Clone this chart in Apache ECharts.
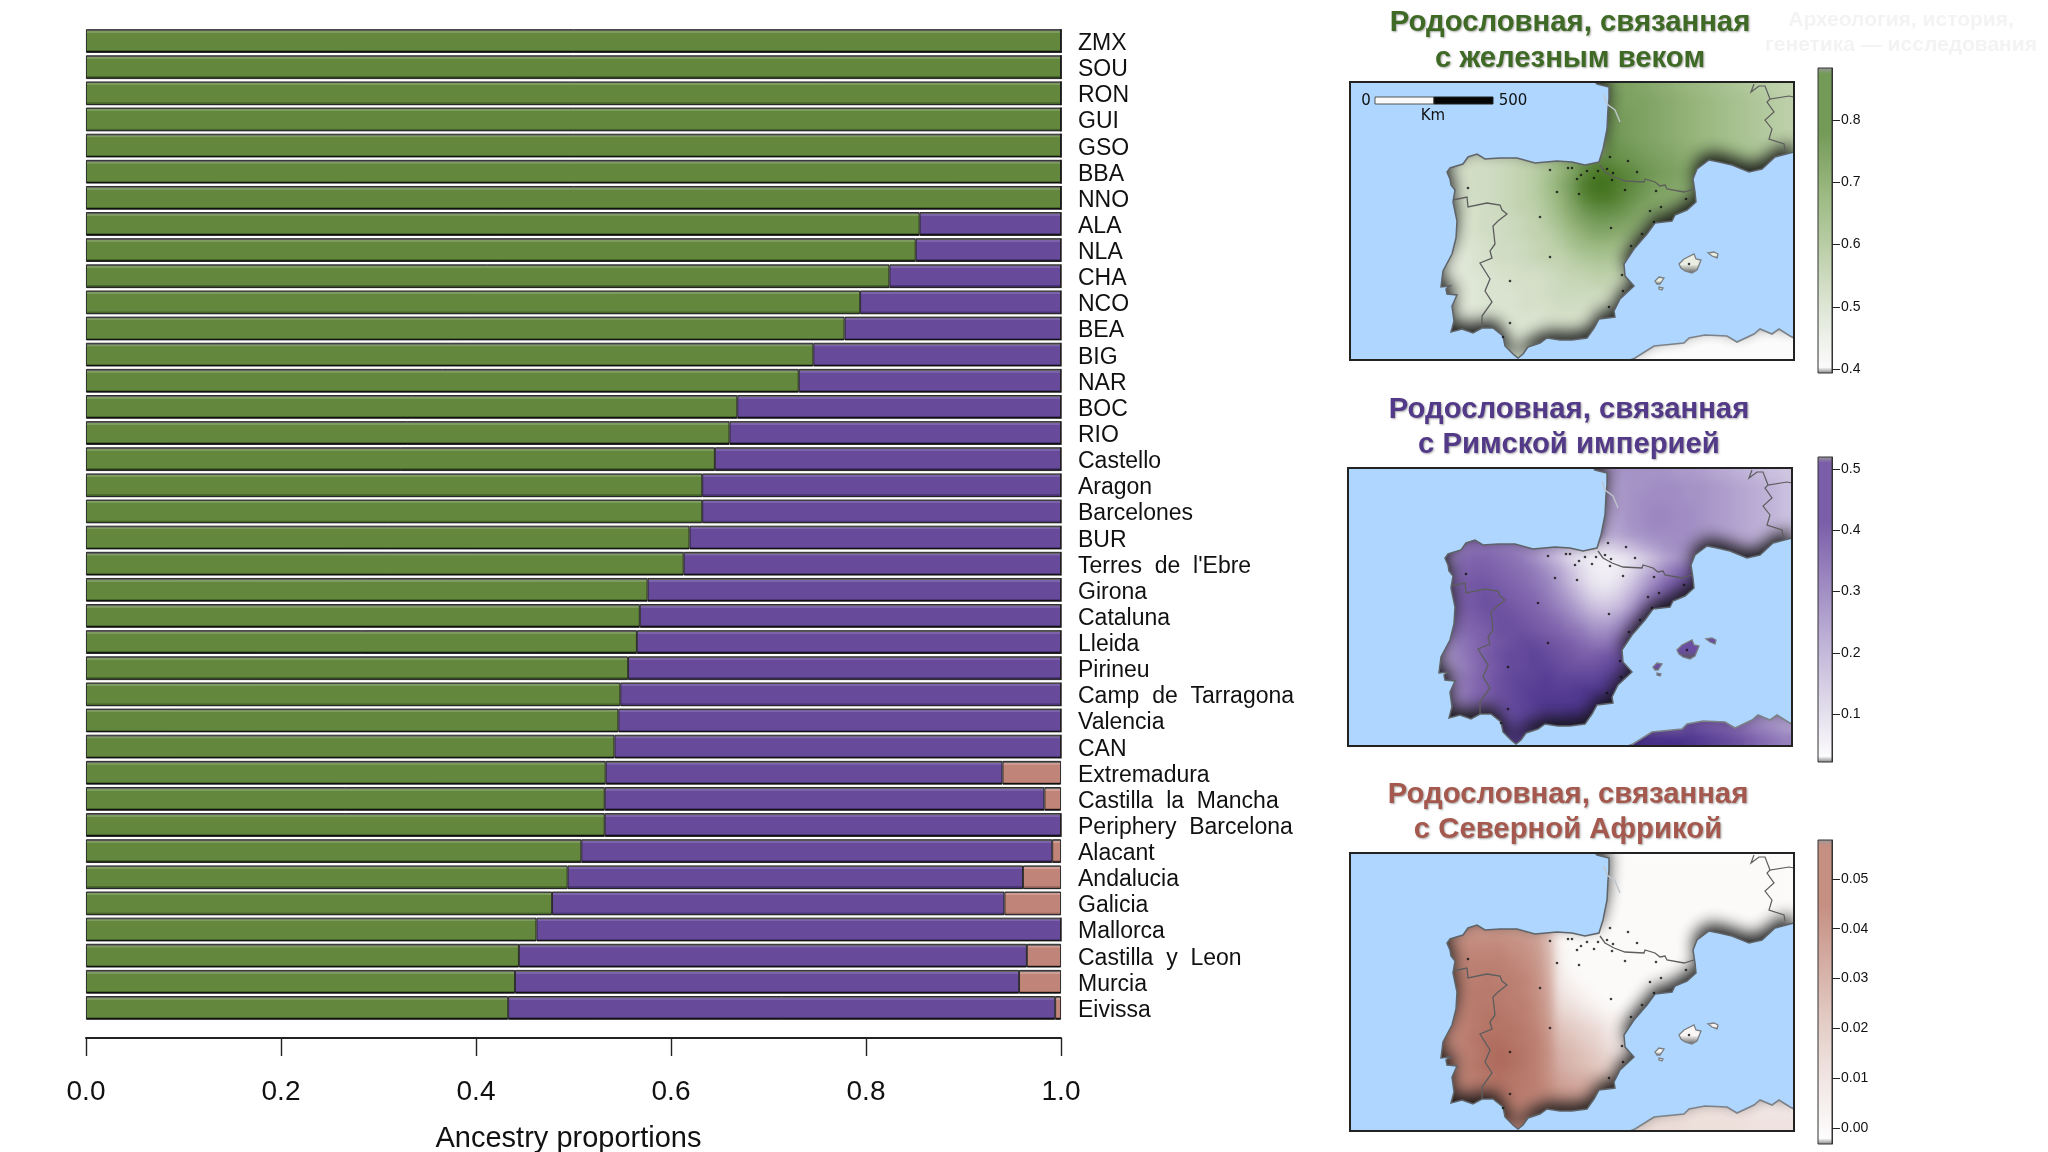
<!DOCTYPE html>
<html><head><meta charset="utf-8">
<style>
html,body{margin:0;padding:0;background:#fff}
#wrap{position:relative;width:2048px;height:1152px;overflow:hidden}
#heat,#c{position:absolute;left:0;top:0;width:2048px;height:1152px}
#heat{z-index:0}#c{z-index:2}
.soft{position:absolute;z-index:1;backdrop-filter:blur(5px);-webkit-backdrop-filter:blur(5px)}
</style>
<script src="https://cdn.jsdelivr.net/npm/echarts@6/dist/echarts.min.js"></script>
</head><body><div id="wrap"><div id="heat"></div><div id="c"></div></div>
<script>
const groups = ['ZMX','SOU','RON','GUI','GSO','BBA','NNO','ALA','NLA','CHA','NCO','BEA','BIG','NAR','BOC','RIO','Castello','Aragon','Barcelones','BUR',"Terres de l'Ebre",'Girona','Cataluna','Lleida','Pirineu','Camp de Tarragona','Valencia','CAN','Extremadura','Castilla la Mancha','Periphery Barcelona','Alacant','Andalucia','Galicia','Mallorca','Castilla y Leon','Murcia','Eivissa'];
const ironAge = [1,1,1,1,1,1,1,.855,.851,.824,.794,.778,.746,.731,.668,.660,.645,.632,.632,.619,.613,.576,.568,.565,.556,.548,.546,.542,.533,.532,.532,.508,.494,.478,.462,.444,.440,.433];
const romanEmpire = [0,0,0,0,0,0,0,.145,.149,.176,.206,.222,.254,.269,.332,.340,.355,.368,.368,.381,.387,.424,.432,.435,.444,.452,.454,.458,.407,.451,.468,.483,.467,.464,.538,.521,.517,.561];
const northAfrica = [0,0,0,0,0,0,0,0,0,0,0,0,0,0,0,0,0,0,0,0,0,0,0,0,0,0,0,0,.060,.017,0,.009,.039,.058,0,.035,.043,.006];
const xTicks = [0,.2,.4,.6,.8,1];

const heatIron = [
"....................pqqqponmlkjihgfed",
".....................rrqqponmlkjihgfe",
".....................srrqponmlkjihgfe",
".....................ssrqponmlkjihgfe",
".....................tsrqponmlkjihgfe",
".....................utsrqponmlkjihgf",
".........9aabcdehknruvutsrqponmlkjihg",
"........89aabcdfimqvyywvtsrqponmlkj",
"........89aabcdfjnsxzzxvtrqpon",
"........89aabcdfimrwyywusqponm",
"........899abcdehlptvvusqponm",
"........889aabcdgjnqssrqonml",
"........889aabcdehknpponlk",
"........7889aabcdfikllkji.....a",
"........7789aabcddfhiihg...abba",
".......7778899aabcdeffed...aaa",
".......777788999abccddcbbaa",
"........77788899abbbbbaa.99",
"........777888999aaaaaa",
"........777788889999999..........0000",
"........7777888889999.......000000000",
"............88888888...00000000000000",
".............88........00000000000000"];
const heatRoman = [
"....................hijjjjjiihgfedcba",
".....................gijjkkkjjihgfedb",
".....................gijkkkkjjihgfedb",
".....................gijkllkkjihgfedb",
".....................fhjkllkkjihgfedb",
".....................egijkkkkjihgfedc",
".........npponmkheb878acfhjkkjihgfedc",
"........kqrrqpnkgc7422358cgjkkjihgf",
"........nrssrqpnkgb63236bglprr",
"........osttsrqomid84359flqtuu",
"........pstutsrqnkgb768djosuu",
"........pstuutsrpmjfbachnruu",
"........orstuutsrpmjgfimqs",
"........nqrsuuutsrpnkkmpr.....q",
"........loqstuvvutsqooqs...uuvq",
".......iknqsuvvwvutsstuv...vvv",
".......hjmpstvvwwvuuuvwwwss",
"........knqsuvwwxwwwwxxx.ss",
"........lnqsuvwxxxxyyyy",
"........lnqsuvwxyyyyzzz",
"........kmoruvwxyyzzz............mkih",
"............vwxyyzzz........vutsqomki",
".............xx........zzzzzyxwvusqom"];
const heatAfrica = [
"....................11111111111111111",
".....................1111111111111111",
".....................1111111111111111",
".....................1111111111111111",
".....................1111111111111111",
".........rrrrqpnh11111111111111111111",
"........rrrrrqpnh31111111111111111111",
".......ssttttsrpj311111111111111111",
".......ttuuuutsqk4111111111111",
".......ttuvvvutrl5111111111111",
".......ttvvwvvusm631111111111",
".......uuvwwwvusn85311111111",
".......uuvwwwvvtoa85311111",
".......uuvwxxwvtpdb964321.....2",
".......uuvwxxxwuqgeca743...3332",
"......ttuvxyyxwvrigec963...333",
"......ttuvwyzyxvskigeb84233",
".......uuvxyzyxvsljhfdb6.33",
".......uuvwxyxwvsnlkige",
".......uuuwwxxwvtponmlj..........7777",
".......ttuvvwwvutrqpo.......888887777",
"........tuvvvvutsrqp...99999999888777",
"..........vvvuuqqqqqp..aaaaa999998888"];

const ticksIron = [.4,.5,.6,.7,.8];
const ticksRoman = [.1,.2,.3,.4,.5];
const ticksAfrica = [0,.01,.02,.03,.04,.05];
const rampIron = ['#fbfbfb','#dfe6d6','#bccfa9','#9ab880','#749a58','#44731f'];
const rampRoman = ['#fbfafc','#dcd6e8','#bdb0d6','#9c87c0','#7a5ea9','#48308a'];
const rampAfrica = ['#fdfdfd','#f1e6e3','#e3ccc5','#d4ada3','#c58f82','#ae6a5b'];
const landTone = ['#dde4d2','#7a5ea9','#fbf8f7'];
const islandTone = ['#eaeee2','#6a4ea1','#f8f5f4'];

const siteX = [118,200,218,222,237,231,227,244,248,257,263,262,260,278,287,207,229,275,306,336,311,300,304,190,261,292,281,200,160,272,273,259,160,339,153];
const siteY = [106,88,86,86,89,93,97,96,89,87,91,98,75,79,90,110,112,108,109,117,125,129,140,135,146,152,164,175,199,193,209,225,241,182,255];

const iberiaCoast = [[245,0],[247,2],[259,5],[259,17],[258,27],[257,47],[253,67],[249,80],[235,83],[222,80],[207,79],[185,81],[167,76],[150,76],[135,77],[127,72],[118,75],[113,82],[100,86],[97,90],[100,97],[101,103],[105,108],[103,120],[107,139],[106,156],[102,172],[93,189],[91,205],[100,204],[96,207],[97,212],[107,213],[102,224],[104,239],[101,250],[112,247],[123,251],[132,246],[143,246],[153,254],[155,264],[163,272],[168,276],[173,272],[178,265],[190,261],[197,256],[210,258],[222,258],[237,256],[244,246],[249,237],[265,235],[264,229],[270,217],[284,204],[275,194],[274,182],[284,167],[297,152],[305,141],[322,139],[325,133],[337,128],[346,120],[345,110],[343,97],[347,87],[359,78],[369,80],[382,83],[399,90],[412,87],[425,75],[444,70]];
const africaCoast = [[444,256],[440,254],[429,247],[422,252],[410,247],[404,252],[387,260],[377,254],[355,253],[339,256],[334,261],[304,264],[285,276],[280,278]];
const menorca = [[367,176],[362,174],[358,171],[364,170],[368,172]];
const mallorca = [[347,188],[342,191],[335,189],[331,186],[329,182],[334,177],[344,172],[346,177],[351,178]];
const ibiza = [[310,202],[307,202],[305,199],[309,195],[314,196]];
const formentera = [[312,208],[309,207],[309,205],[313,206]];
const borderSpainFrance = [[250,83],[255,90],[264,95],[275,99],[294,100],[295,97],[305,100],[310,104],[315,103],[317,107],[334,110],[344,107]];
const borderPortugal = [[103,118],[117,115],[118,125],[137,121],[150,123],[152,128],[157,132],[148,139],[143,144],[145,162],[140,169],[142,176],[130,181],[140,197],[135,209],[142,220],[132,234],[132,246]];
const borderAlps = [[404,2],[401,10],[409,4],[415,4],[420,17],[439,14],[444,15]];
const borderItaly = [[420,17],[417,20],[424,30],[415,38],[422,47],[419,57],[434,62],[435,68]];
const gironde = [[254,13],[257,22],[265,28],[270,40]];

const SEA = '#AED6FF';
const FRAME = [{l:1350,t:82},{l:1348,t:468},{l:1350,t:853}];
const MAPW = 444, MAPH = 278;
const CBAR = [
  {t:68,b:373,min:.394,max:.883,ticks:ticksIron,ramp:rampIron,dec:1},
  {t:457,b:762,min:.0216,max:.52,ticks:ticksRoman,ramp:rampRoman,dec:1},
  {t:840,b:1144,min:-.0032,max:.0578,ticks:ticksAfrica,ramp:rampAfrica,dec:2}];
const HEAT = [
  {rows:heatIron,lo:.40,hi:.88,ramp:rampIron},
  {rows:heatRoman,lo:.02,hi:.52,ramp:rampRoman},
  {rows:heatAfrica,lo:-.003,hi:.058,ramp:rampAfrica}];

function cells(rows, lo, hi){
  const out = [];
  rows.forEach((row, r) => [...row].forEach((ch, c) => {
    if (ch !== '.') out.push([c, r, lo + parseInt(ch, 36) * (hi - lo) / 35]);
  }));
  return out;
}
function seaRing(){
  return [[0,0]].concat(iberiaCoast, africaCoast, [[0,MAPH]]);
}
function barFill(main, light, dark){
  return new echarts.graphic.LinearGradient(0,0,0,1,[
    {offset:0,color:'#5c5c5c'},{offset:.07,color:'#666'},{offset:.08,color:light},{offset:.15,color:light},
    {offset:.16,color:main},{offset:.88,color:main},{offset:.89,color:dark},{offset:.93,color:dark},
    {offset:.94,color:'#111'},{offset:1,color:'#000'}]);
}
const stackBar = (name, data, main, light, dark) => ({
  name, type:'bar', stack:'all', data, xAxisIndex:0, yAxisIndex:0, barWidth:23.7,
  itemStyle:{color:barFill(main,light,dark),borderColor:'#1c1c1c',borderWidth:.9}, silent:true
});

/* blurred heat surface, behind the main chart */
const heatGrids=[],heatX=[],heatY=[],heatSeries=[],heatVM=[];
FRAME.forEach((f,i)=>{
  const rows = HEAT[i].rows;
  heatGrids.push({left:f.l,top:f.t,width:MAPW,height:MAPH,show:true,borderWidth:0,backgroundColor:landTone[i],outerBoundsMode:'none'});
  heatX.push({gridIndex:i,type:'category',data:[...Array(37).keys()],show:false});
  heatY.push({gridIndex:i,type:'category',data:rows.map((_,r)=>r),inverse:true,show:false});
  heatSeries.push({type:'heatmap',xAxisIndex:i,yAxisIndex:i,silent:true,progressive:0,data:cells(rows,HEAT[i].lo,HEAT[i].hi)});
  heatVM.push({show:false,type:'continuous',seriesIndex:i,dimension:2,min:HEAT[i].lo,max:HEAT[i].hi,inRange:{color:HEAT[i].ramp}});
  const d=document.createElement('div');
  d.className='soft';
  d.style.cssText=`left:${f.l}px;top:${f.t}px;width:${MAPW}px;height:${MAPH}px`;
  document.getElementById('wrap').appendChild(d);
});
echarts.init(document.getElementById('heat'),null,{renderer:'canvas',width:2048,height:1152}).setOption({
  animation:false,backgroundColor:'#fff',grid:heatGrids,xAxis:heatX,yAxis:heatY,visualMap:heatVM,series:heatSeries});

const grids = [{left:86,top:28,width:975,height:993,outerBoundsMode:'none'}];
const xAxes = [{gridIndex:0,type:'value',min:0,max:1,position:'bottom',offset:17,
  axisLine:{show:true,onZero:false,lineStyle:{color:'#222',width:2}},
  axisTick:{show:true,length:18,lineStyle:{color:'#222',width:1.4},customValues:xTicks},
  splitLine:{show:false},
  axisLabel:{customValues:xTicks,margin:40,fontSize:28,fontFamily:'Liberation Sans',color:'#111',formatter:v=>v.toFixed(1)},
  name:'Ancestry proportions',nameLocation:'center',nameGap:86,
  nameTextStyle:{fontSize:29,fontFamily:'Liberation Sans',color:'#111',padding:[0,10,0,0]}}];
const yAxes = [{gridIndex:0,type:'category',data:groups,inverse:true,position:'right',
  axisLine:{show:false},axisTick:{show:false},axisLabel:{show:false}}];
const series = [
  stackBar('Iron Age',ironAge,'#63873C','#7d9c5e','#47662a'),
  stackBar('Roman Empire',romanEmpire,'#674A9A','#7c63ab','#4b3478'),
  stackBar('North Africa',northAfrica,'#C08478','#cf9d93','#a06a60')
];

FRAME.forEach((f, i) => {
  const vIdx = 1 + i;
  grids[vIdx] = {left:f.l,top:f.t,width:MAPW,height:MAPH,outerBoundsMode:'none'};
  xAxes[vIdx] = {gridIndex:vIdx,type:'value',min:0,max:MAPW,show:false};
  yAxes[vIdx] = {gridIndex:vIdx,type:'value',min:0,max:MAPH,inverse:true,show:false};

  series.push({type:'custom',coordinateSystem:'cartesian2d',xAxisIndex:vIdx,yAxisIndex:vIdx,z:3,clip:true,silent:true,data:[0],
    renderItem:(p,api)=>({type:'polygon',shape:{points:seaRing().map(q=>api.coord(q))},
      style:{fill:SEA,shadowBlur:16,shadowColor:'rgba(20,20,20,.95)',shadowOffsetY:-8}})});
  series.push({type:'custom',coordinateSystem:'cartesian2d',xAxisIndex:vIdx,yAxisIndex:vIdx,z:4,clip:true,silent:true,data:[0],
    renderItem:(p,api)=>{
      const line=(pts,col,w)=>({type:'polyline',shape:{points:pts.map(q=>api.coord(q))},style:{fill:null,stroke:col,lineWidth:w}});
      const isle=a=>({type:'polygon',shape:{points:a.map(q=>api.coord(q))},style:{
        fill:new echarts.graphic.LinearGradient(0,0,0,1,[{offset:0,color:islandTone[i]},{offset:.55,color:islandTone[i]},{offset:1,color:'#5a5a5a'}]),
        stroke:'#7a7e82',lineWidth:1.3}});
      return {type:'group',children:[
        line(iberiaCoast,'#5f6468',1.5),line(africaCoast,'#7c8288',1.6),
        isle(menorca),isle(mallorca),isle(ibiza),isle(formentera),
        line(borderSpainFrance,'#5d5d5d',1.3),line(borderPortugal,'#5d5d5d',1.3),
        line(borderAlps,'#5d5d5d',1.2),line(borderItaly,'#5d5d5d',1.2),
        line(gironde,'#bfc6cc',1.4)]};
    }});
  series.push({type:'scatter',xAxisIndex:vIdx,yAxisIndex:vIdx,z:5,silent:true,symbolSize:2.6,
    itemStyle:{color:'#111'},data:siteX.map((x,k)=>[x,siteY[k]])});
  series.push({type:'custom',coordinateSystem:'cartesian2d',xAxisIndex:vIdx,yAxisIndex:vIdx,z:6,clip:false,silent:true,data:[0],
    renderItem:(p,api)=>{
      const a=api.coord([0,0]),b=api.coord([MAPW,MAPH]);
      return {type:'rect',shape:{x:a[0],y:a[1],width:b[0]-a[0],height:b[1]-a[1]},style:{fill:null,stroke:'#222',lineWidth:2}};
    }});

  const cIdx = 4 + i, cb = CBAR[i];
  grids[cIdx] = {left:1818,width:14,top:cb.t,height:cb.b-cb.t,outerBoundsMode:'none'};
  xAxes[cIdx] = {gridIndex:cIdx,type:'value',min:0,max:1,show:false};
  yAxes[cIdx] = {gridIndex:cIdx,type:'value',position:'right',min:cb.min,max:cb.max,
    axisLine:{show:true,onZero:false,lineStyle:{color:'#333',width:1}},
    axisTick:{show:true,length:8,customValues:cb.ticks,lineStyle:{color:'#222',width:1}},
    splitLine:{show:false},
    axisLabel:{customValues:cb.ticks,margin:9,fontSize:14,fontFamily:'Liberation Sans',color:'#111',formatter:v=>v.toFixed(cb.dec)}};
  const stops = [{offset:0,color:'#808080'},{offset:.02,color:cb.ramp[0]}];
  cb.ramp.forEach((c,k)=>{ if(k>0) stops.push({offset:.02+.96*k/(cb.ramp.length-1),color:k===cb.ramp.length-1?cb.ramp[k-1]:c}); });
  stops.push({offset:1,color:'#9a9a9a'});
  series.push({type:'custom',coordinateSystem:'cartesian2d',xAxisIndex:cIdx,yAxisIndex:cIdx,z:2,silent:true,data:[0],
    renderItem:(p,api)=>{
      const a=api.coord([0,cb.max]),b=api.coord([1,cb.min]);
      return {type:'rect',shape:{x:a[0],y:a[1],width:b[0]-a[0],height:b[1]-a[1]},
        style:{fill:new echarts.graphic.LinearGradient(0,1,0,0,stops),stroke:'#333',lineWidth:1}};
    }});
});

/* group names: same bands as the bars, set 2.6px lower as in the source figure */
grids[7] = {left:86,top:30.6,width:975,height:993,outerBoundsMode:'none'};
xAxes[7] = {gridIndex:7,type:'value',min:0,max:1,show:false};
yAxes[7] = {gridIndex:7,type:'category',data:groups,inverse:true,position:'right',
  axisLine:{show:false},axisTick:{show:false},
  axisLabel:{interval:0,margin:17,fontSize:23,fontFamily:'Liberation Sans',color:'#111',
    formatter:v=>v.replace(/ /g,'  ')}};

const titleShadow = {textShadowColor:'rgba(0,0,0,.35)',textShadowBlur:2,textShadowOffsetX:1,textShadowOffsetY:1};
const mkTitle = (text,x,top,color,size,lh,weight,shadow) => ({
  text,left:x,top,textAlign:'center',padding:0,
  textStyle:Object.assign({color,fontSize:size,lineHeight:lh,fontWeight:weight,fontFamily:'Liberation Sans'},shadow?titleShadow:{})
});
const scaleText = (text,x,y) => ({type:'text',z:20,silent:true,style:{text,x,y,align:'center',verticalAlign:'middle',font:'15px "DejaVu Sans"',fill:'#111'}});

const option = {
  animation:false,backgroundColor:'transparent',
  title:[
    mkTitle('Родословная, связанная\nс железным веком',1570,5,'#3f6a25',29.3,36,'bold',true),
    mkTitle('Родословная, связанная\nс Римской империей',1569,392,'#523a88',29.3,35,'bold',true),
    mkTitle('Родословная, связанная\nс Северной Африкой',1568,777,'#a5594e',29.3,35,'bold',true),
    mkTitle('Археология, история,\nгенетика — исследования',1901,8,'#f3f3f3',21,25,'bold',false)
  ],
  grid:grids,xAxis:xAxes,yAxis:yAxes,series,
  graphic:[
    {type:'rect',z:20,silent:true,shape:{x:1375,y:97,width:59,height:7},style:{fill:'#fafafa',stroke:'#555',lineWidth:1}},
    {type:'rect',z:20,silent:true,shape:{x:1434,y:97,width:59,height:7},style:{fill:'#050505',stroke:'#222',lineWidth:1}},
    scaleText('0',1366,101),scaleText('500',1513,101),scaleText('Km',1433,116)
  ]
};
const chart = echarts.init(document.getElementById('c'),null,{renderer:'canvas',width:2048,height:1152});
chart.setOption(option);
</script></body></html>
